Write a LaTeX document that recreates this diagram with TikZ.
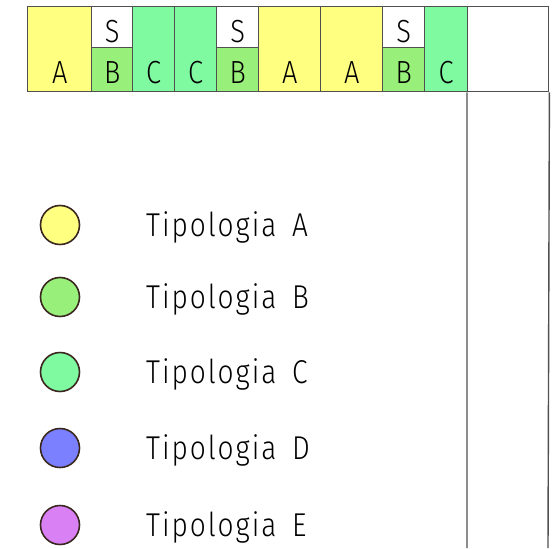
\documentclass[tikz,border=0pt]{standalone}
\usepackage{fontspec}
\setmainfont{Fira Sans Light}[LetterSpace=6,FakeStretch=0.85]
\usetikzlibrary{positioning}
\definecolor{tipA}{RGB}{255,255,128}
\definecolor{tipB}{RGB}{152,240,122}
\definecolor{tipC}{RGB}{128,250,160}
\definecolor{tipD}{RGB}{122,128,255}
\definecolor{tipE}{RGB}{218,128,245}
\definecolor{rim}{RGB}{58,40,32}
\definecolor{wall}{RGB}{80,80,80}
\tikzset{cell/.style={draw=wall,line width=1.4pt,inner sep=0pt,anchor=north west},
 tall/.style={cell,minimum height=85pt},top/.style={cell,minimum height=41pt},bot/.style={cell,minimum height=44pt},
 lett/.style={anchor=base,inner sep=0pt,font=\fontsize{32}{34}\selectfont},
 dot/.style={circle,draw=rim,line width=1.6pt,minimum size=39pt,inner sep=0pt},
 leg/.style={anchor=base west,inner sep=0pt,font=\fontsize{33}{34}\selectfont}}

\begin{document}
\begin{tikzpicture}[x=1pt,y=-1pt]
\useasboundingbox (0,0) rectangle (553,548);
% strip of units
\node[tall,fill=tipA,minimum width=64pt] (u1) at (27,6) {};\node[lett] at ([yshift=9pt]u1.south) {A};
\node[top,fill=white,minimum width=41pt] (s2) at (91,6) {};\node[bot,fill=tipB,minimum width=41pt] (u2) at (91,47) {};
\node[lett] at ([yshift=6pt]s2.south) {S};\node[lett] at ([yshift=9pt]u2.south) {B};
\node[tall,fill=tipC,minimum width=42pt] (u3) at (132,6) {};\node[lett] at ([yshift=9pt]u3.south) {C};
\node[tall,fill=tipC,minimum width=42pt] (u4) at (174,6) {};\node[lett] at ([yshift=9pt]u4.south) {C};
\node[top,fill=white,minimum width=42pt] (s5) at (216,6) {};\node[bot,fill=tipB,minimum width=42pt] (u5) at (216,47) {};
\node[lett] at ([yshift=6pt]s5.south) {S};\node[lett] at ([yshift=9pt]u5.south) {B};
\node[tall,fill=tipA,minimum width=62pt] (u6) at (258,6) {};\node[lett] at ([yshift=9pt]u6.south) {A};
\node[tall,fill=tipA,minimum width=62pt] (u7) at (320,6) {};\node[lett] at ([yshift=9pt]u7.south) {A};
\node[top,fill=white,minimum width=42pt] (s8) at (382,6) {};\node[bot,fill=tipB,minimum width=42pt] (u8) at (382,47) {};
\node[lett] at ([yshift=6pt]s8.south) {S};\node[lett] at ([yshift=9pt]u8.south) {B};
\node[tall,fill=tipC,minimum width=43pt] (u9) at (424,6) {};\node[lett] at ([yshift=9pt]u9.south) {C};
\node[tall,fill=white,minimum width=81pt] (u10) at (467,6) {};
\coordinate (eL) at (467,548);\coordinate (eR) at (548,548);
\draw[wall,line width=1.4pt] (u10.south west)--(eL) (u10.south east)--(eR);
% legend
\foreach \t/\c/\y in {A/tipA/225,B/tipB/297,C/tipC/372,D/tipD/448,E/tipE/525}{
 \node[dot,fill=\c] (d\t) at (60,\y) {};
 \node[leg] (l\t) at ([xshift=86pt,yshift=-11pt]d\t.center) {Tipologia\hspace{6pt} \t};}
\end{tikzpicture}
\end{document}
